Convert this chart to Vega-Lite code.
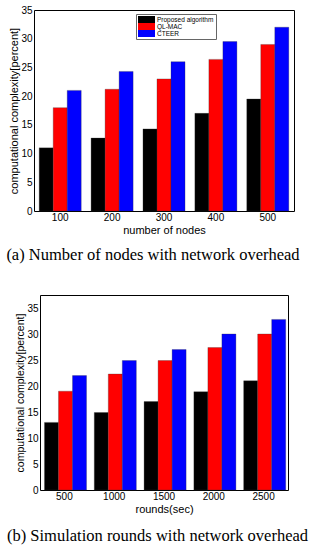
{
  "$schema": "https://vega.github.io/schema/vega-lite/v6.json",
  "padding": {"left": 5, "top": 4, "right": 5, "bottom": 5},
  "background": "white",
  "center": true,
  "bounds": "flush",
  "spacing": 84,
  "config": {
    "view": {"stroke": "#000000", "strokeWidth": 1},
    "axis": {
      "domain": false, "ticks": false, "grid": false,
      "labelFont": "Liberation Sans", "titleFont": "Liberation Sans",
      "labelFontSize": 10, "titleFontSize": 11,
      "labelColor": "#000000", "titleColor": "#000000", "titleFontWeight": "normal"
    },
    "legend": {
      "labelFont": "Liberation Sans", "labelColor": "#000000",
      "strokeColor": "#666666", "fillColor": "#ffffff",
      "symbolStrokeWidth": 0, "rowPadding": 0, "padding": 2, "title": null
    },
    "title": {"font": "Liberation Serif", "fontSize": 16.5, "fontWeight": "normal", "color": "#000000", "orient": "bottom", "frame": "group"}
  },
  "datasets": {
    "a": [
      {"nodes": "100", "alg": "Proposed algorithm", "value": 11.0},
      {"nodes": "100", "alg": "QL-MAC", "value": 18.0},
      {"nodes": "100", "alg": "CTEER", "value": 21.0},
      {"nodes": "200", "alg": "Proposed algorithm", "value": 12.7},
      {"nodes": "200", "alg": "QL-MAC", "value": 21.2},
      {"nodes": "200", "alg": "CTEER", "value": 24.3},
      {"nodes": "300", "alg": "Proposed algorithm", "value": 14.3},
      {"nodes": "300", "alg": "QL-MAC", "value": 23.0},
      {"nodes": "300", "alg": "CTEER", "value": 26.0},
      {"nodes": "400", "alg": "Proposed algorithm", "value": 17.0},
      {"nodes": "400", "alg": "QL-MAC", "value": 26.4},
      {"nodes": "400", "alg": "CTEER", "value": 29.5},
      {"nodes": "500", "alg": "Proposed algorithm", "value": 19.5},
      {"nodes": "500", "alg": "QL-MAC", "value": 29.0},
      {"nodes": "500", "alg": "CTEER", "value": 32.0}
    ],
    "b": [
      {"rounds": "500", "alg": "Proposed algorithm", "value": 13.0},
      {"rounds": "500", "alg": "QL-MAC", "value": 19.0},
      {"rounds": "500", "alg": "CTEER", "value": 22.0},
      {"rounds": "1000", "alg": "Proposed algorithm", "value": 14.9},
      {"rounds": "1000", "alg": "QL-MAC", "value": 22.3},
      {"rounds": "1000", "alg": "CTEER", "value": 24.9},
      {"rounds": "1500", "alg": "Proposed algorithm", "value": 17.0},
      {"rounds": "1500", "alg": "QL-MAC", "value": 24.9},
      {"rounds": "1500", "alg": "CTEER", "value": 27.0},
      {"rounds": "2000", "alg": "Proposed algorithm", "value": 18.9},
      {"rounds": "2000", "alg": "QL-MAC", "value": 27.4},
      {"rounds": "2000", "alg": "CTEER", "value": 30.0},
      {"rounds": "2500", "alg": "Proposed algorithm", "value": 21.0},
      {"rounds": "2500", "alg": "QL-MAC", "value": 30.0},
      {"rounds": "2500", "alg": "CTEER", "value": 32.8}
    ]
  },
  "vconcat": [
    {
      "data": {"name": "a"},
      "width": 260,
      "height": 201,
      "title": {"text": "(a) Number of nodes with network overhead", "offset": 12, "dx": -11},
      "mark": {"type": "bar", "stroke": "#333333", "strokeWidth": 0.3},
      "encoding": {
        "x": {
          "field": "nodes", "type": "ordinal", "sort": ["100", "200", "300", "400", "500"],
          "scale": {"paddingInner": 0.19, "paddingOuter": 0.1},
          "axis": {"title": "number of nodes", "labelAngle": 0, "labelPadding": 1, "titlePadding": 2}
        },
        "xOffset": {"field": "alg", "type": "nominal", "sort": ["Proposed algorithm", "QL-MAC", "CTEER"], "scale": {"paddingInner": 0, "paddingOuter": 0}},
        "y": {
          "field": "value", "type": "quantitative",
          "scale": {"domain": [0, 35], "nice": false},
          "axis": {"title": "computational complexity[percent]", "values": [0, 5, 10, 15, 20, 25, 30, 35], "labelPadding": 2, "titlePadding": 1}
        },
        "color": {
          "field": "alg", "type": "nominal",
          "sort": ["Proposed algorithm", "QL-MAC", "CTEER"],
          "scale": {"domain": ["Proposed algorithm", "QL-MAC", "CTEER"], "range": ["#000000", "#ff0000", "#0000ff"]},
          "legend": {
            "orient": "none", "legendX": 102, "legendY": 4,
            "labelFontSize": 6.5,
            "symbolType": "M-1,-1L3.857,-1L3.857,1L-1,1Z", "symbolSize": 49,
            "labelOffset": 12, "symbolOpacity": 1
          }
        }
      }
    },
    {
      "data": {"name": "b"},
      "width": 248,
      "height": 195,
      "title": {"text": "(b) Simulation rounds with network overhead", "offset": 14, "dx": -6.5},
      "mark": {"type": "bar", "stroke": "#333333", "strokeWidth": 0.3},
      "encoding": {
        "x": {
          "field": "rounds", "type": "ordinal", "sort": ["500", "1000", "1500", "2000", "2500"],
          "scale": {"paddingInner": 0.2, "paddingOuter": 0.09},
          "axis": {"title": "rounds(sec)", "labelAngle": 0, "labelPadding": 1, "titlePadding": 2}
        },
        "xOffset": {"field": "alg", "type": "nominal", "sort": ["Proposed algorithm", "QL-MAC", "CTEER"], "scale": {"paddingInner": 0, "paddingOuter": 0}},
        "y": {
          "field": "value", "type": "quantitative",
          "scale": {"domain": [0, 37.5], "nice": false},
          "axis": {"title": "computational complexity[percent]", "titleFontSize": 10.5, "values": [0, 5, 10, 15, 20, 25, 30, 35], "labelPadding": 2, "titlePadding": 1}
        },
        "color": {
          "field": "alg", "type": "nominal",
          "sort": ["Proposed algorithm", "QL-MAC", "CTEER"],
          "scale": {"domain": ["Proposed algorithm", "QL-MAC", "CTEER"], "range": ["#000000", "#ff0000", "#0000ff"]},
          "legend": {
            "orient": "none", "legendX": 129, "legendY": 0,
            "labelFontSize": 6,
            "symbolType": "M-1,-1L3.143,-1L3.143,1L-1,1Z", "symbolSize": 49,
            "labelOffset": 9, "symbolOpacity": 1
          }
        }
      }
    }
  ]
}
